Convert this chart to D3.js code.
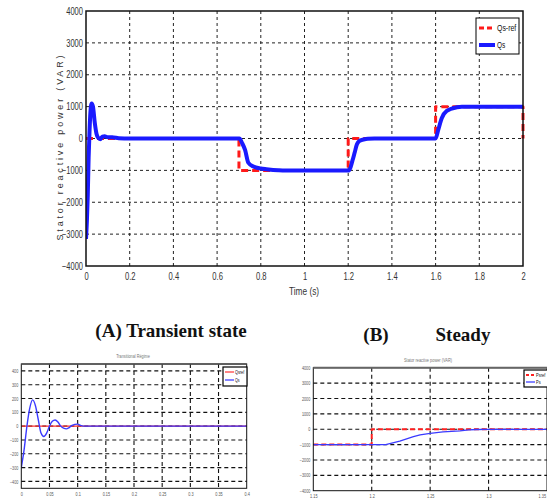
<!DOCTYPE html>
<html>
<head>
<meta charset="utf-8">
<script src="https://cdn.jsdelivr.net/npm/d3@7"></script>
<style>
  html, body { margin: 0; padding: 0; background: #fff; }
  svg { display: block; }
  .narrow { font-family: 'Liberation Sans', 'DejaVu Sans', sans-serif; }
  .caption { font-family: 'Liberation Serif', 'DejaVu Serif', serif; font-weight: bold; }
</style>
</head>
<body>
<svg id="chart" width="547" height="499"></svg>
<script>
// ---- Main figure: stator reactive power over 0..2 s ----
const mainRefTime = [0, 0.7, 0.7, 1.2, 1.2, 1.6, 1.6, 2.0, 2.0];
const mainRefQ    = [0, 0, -1000, -1000, 0, 0, 1000, 1000, 0];

const mainQsTime = [0, 0.004, 0.008, 0.012, 0.016, 0.02, 0.026, 0.032, 0.04, 0.048, 0.056, 0.065,
                    0.075, 0.085, 0.1, 0.12, 0.15, 0.2, 0.702, 0.715, 0.728, 0.743, 0.766, 0.8,
                    0.826, 0.88, 0.9, 1.204, 1.22, 1.23, 1.24, 1.25, 1.27, 1.29, 1.32, 1.6,
                    1.612, 1.628, 1.651, 1.697, 1.72, 2.0];
const mainQs     = [-3150, -2600, -1800, -600, 200, 800, 1100, 1000, 500, 150, 20, -20,
                    60, 70, 40, 40, 10, 0, 0, -150, -360, -760, -880, -940,
                    -962, -995, -1000, -1000, -680, -430, -180, -80, -30, -5, 0, 0,
                    270, 636, 865, 980, 1000, 1000];

const mainXTicks = [0, 0.2, 0.4, 0.6, 0.8, 1, 1.2, 1.4, 1.6, 1.8, 2];
const mainYTicks = [-4000, -3000, -2000, -1000, 0, 1000, 2000, 3000, 4000];

// ---- Panel (A): transient regime, 0..0.4 s ----
const aRefTime = [0, 0.4];
const aRefQ    = [0, 0];
const aQsTime  = [0, 0.005, 0.01, 0.015, 0.02, 0.025, 0.03, 0.035, 0.04, 0.045, 0.05, 0.055,
                  0.06, 0.065, 0.07, 0.075, 0.08, 0.085, 0.09, 0.095, 0.1, 0.105, 0.11, 0.4];
const aQs      = [-300, -170, 0, 130, 190, 150, 50, -50, -75, -50, 0, 35,
                  45, 30, 0, -15, -20, -10, 5, 13, 15, 5, 0, 0];
const aXTicks  = [0, 0.05, 0.1, 0.15, 0.2, 0.25, 0.3, 0.35, 0.4];
const aXLabels = ["0", "0.05", "0.1", "0.15", "0.2", "0.25", "0.3", "0.35", "0.4"];
const aYTicks  = [-400, -300, -200, -100, 0, 100, 200, 300, 400];

// ---- Panel (B): steady regime around the 1.2 s step ----
const bRefTime = [1.15, 1.2, 1.2, 1.35];
const bRefQ    = [-1000, -1000, 0, 0];
const bQsTime  = [1.15, 1.212, 1.224, 1.2357, 1.2414, 1.25, 1.261, 1.2756, 1.283, 1.29, 1.3, 1.35];
const bQs      = [-1000, -1000, -770, -490, -375, -265, -180, -110, -45, -20, -5, -5];
const bXTicks  = [1.15, 1.2, 1.25, 1.3, 1.35];
const bXLabels = ["1.15", "1.2", "1.25", "1.3", "1.35"];
const bYTicks  = [-4000, -3000, -2000, -1000, 0, 1000, 2000, 3000, 4000];

const zip = (a, b) => a.map((v, i) => [v, b[i]]);
const svg = d3.select("#chart");

// condensed look: squeeze each label to an Arial-Narrow-like width
function narrowWidth(str, size) {
  let w = 0;
  for (const c of String(str)) {
    if (c === "." || c === " ") w += 0.22;
    else if (c === "-" || c === "(" || c === ")") w += 0.28;
    else if (/[0-9]/.test(c)) w += 0.42;
    else if (/[A-Z]/.test(c)) w += 0.5;
    else if (/[ilj]/.test(c)) w += 0.2;
    else if (/[tfr]/.test(c)) w += 0.26;
    else w += 0.42;
  }
  return w * size;
}
function squeeze(sel, size) {
  sel.each(function () {
    const t = d3.select(this);
    t.attr("textLength", narrowWidth(t.text(), size)).attr("lengthAdjust", "spacingAndGlyphs");
  });
}

function drawPanel(o) {
  const g = svg.append("g");
  const x = d3.scaleLinear().domain(o.xDomain).range([o.left, o.right]);
  const y = d3.scaleLinear().domain(o.yDomain).range([o.bottom, o.top]);

  // dashed grid
  g.append("g").selectAll("line")
    .data(o.xTicks.filter(t => x(t) > o.left + 1 && x(t) < o.right - 1))
    .join("line")
    .attr("x1", d => x(d)).attr("x2", d => x(d))
    .attr("y1", o.top).attr("y2", o.bottom)
    .attr("stroke", o.gridColor).attr("stroke-width", o.gridWidth)
    .attr("stroke-dasharray", o.gridDash);
  g.append("g").selectAll("line")
    .data(o.yTicks.filter(t => y(t) > o.top + 1 && y(t) < o.bottom - 1))
    .join("line")
    .attr("x1", o.left).attr("x2", o.right)
    .attr("y1", d => y(d)).attr("y2", d => y(d))
    .attr("stroke", o.gridColor).attr("stroke-width", o.gridWidth)
    .attr("stroke-dasharray", o.gridDash);

  // tick labels via d3 axes
  const ax = d3.axisBottom(x).tickValues(o.xTicks).tickSize(0).tickPadding(o.xPad)
    .tickFormat((d, i) => o.xLabels ? o.xLabels[i] : d3.format("~g")(d));
  const axG = g.append("g").attr("transform", `translate(0,${o.bottom})`).call(ax);
  axG.select(".domain").remove();
  axG.attr("font-family", null).attr("font-size", null);
  axG.selectAll("text").attr("class", "narrow").style("font-size", o.tickFont + "px")
    .attr("fill", o.tickColor);
  if (o.lastXEnd) {
    axG.selectAll("text").filter((d, i, n) => i === n.length - 1)
      .attr("text-anchor", "end").attr("x", -1.5);
  }
  squeeze(axG.selectAll("text"), o.tickFont);

  const ay = d3.axisLeft(y).tickValues(o.yTicks).tickSize(0).tickPadding(o.yPad)
    .tickFormat(d3.format("d"));
  const ayG = g.append("g").attr("transform", `translate(${o.left},0)`).call(ay);
  ayG.select(".domain").remove();
  ayG.attr("font-family", null).attr("font-size", null);
  ayG.selectAll("text").attr("class", "narrow").style("font-size", o.tickFont + "px")
    .attr("fill", o.tickColor);
  squeeze(ayG.selectAll("text"), o.tickFont);

  // series
  const clipId = "clip" + Math.round(o.left);
  svg.append("clipPath").attr("id", clipId).append("rect")
    .attr("x", o.left).attr("y", o.top - 3).attr("width", o.right - o.left + 2).attr("height", o.bottom - o.top + 6);
  o.series.forEach(s => {
    const line = d3.line().x(d => x(d[0])).y(d => y(d[1])).curve(s.curve || d3.curveLinear);
    g.append("path")
      .datum(s.data)
      .attr("clip-path", `url(#${clipId})`)
      .attr("d", line)
      .attr("fill", "none")
      .attr("stroke", s.color)
      .attr("stroke-width", s.width)
      .attr("stroke-dasharray", s.dash || null)
      .attr("stroke-linejoin", "round");
  });

  // frame
  g.append("rect")
    .attr("x", o.left).attr("y", o.top)
    .attr("width", o.right - o.left).attr("height", o.bottom - o.top)
    .attr("fill", "none").attr("stroke", o.frameColor).attr("stroke-width", o.frameWidth);
  if (o.topEdge) {
    g.append("line").attr("x1", o.left).attr("x2", o.right).attr("y1", o.top).attr("y2", o.top)
      .attr("stroke", o.topEdge.color).attr("stroke-width", o.topEdge.width);
  }

  // legend
  const L = o.legend;
  const lg = g.append("g");
  lg.append("rect").attr("x", L.x).attr("y", L.y).attr("width", L.w).attr("height", L.h)
    .attr("fill", "#fff").attr("stroke", "#000").attr("stroke-width", L.border);
  L.items.forEach((it, i) => {
    const yy = L.y + L.rowY[i];
    lg.append("line").attr("x1", L.x + L.lx0).attr("x2", L.x + L.lx1)
      .attr("y1", yy).attr("y2", yy)
      .attr("stroke", it.color).attr("stroke-width", it.width)
      .attr("stroke-dasharray", it.dash || null);
    const t = lg.append("text").attr("class", "narrow").attr("x", L.x + L.tx).attr("y", yy)
      .attr("dy", "0.35em").style("font-size", L.font + "px").attr("fill", "#111")
      .text(it.label);
    squeeze(t, L.font);
  });
  return { x, y, g };
}

// main chart
drawPanel({
  left: 86, right: 523, top: 11, bottom: 266,
  xDomain: [0, 2], yDomain: [-4000, 4000],
  xTicks: mainXTicks, yTicks: mainYTicks,
  gridColor: "#222", gridWidth: 1, gridDash: "3,3",
  xPad: 7, yPad: 3, tickFont: 10, tickColor: "#333",
  frameColor: "#111", frameWidth: 1.5,
  series: [
    { data: zip(mainRefTime, mainRefQ), color: "#ff1a1a", width: 3, dash: "7,4" },
    { data: zip(mainQsTime, mainQs), color: "#1a1aff", width: 4, curve: d3.curveMonotoneX }
  ],
  legend: {
    x: 476, y: 18, w: 43, h: 36, border: 1, font: 9, lx0: 3, lx1: 19, tx: 21, rowY: [10, 27],
    items: [
      { label: "Qs-ref", color: "#ff1a1a", width: 3, dash: "5,3" },
      { label: "Qs", color: "#1a1aff", width: 4 }
    ]
  }
});

// axis titles of the main chart
svg.append("text").attr("class", "narrow")
  .attr("transform", "translate(63,148) rotate(-90)")
  .attr("text-anchor", "middle").style("font-size", "9px").attr("fill", "#333")
  .attr("textLength", 185).attr("lengthAdjust", "spacing")
  .text("Stator reactive power (VAR)");
const tl = svg.append("text").attr("class", "narrow")
  .attr("x", 304).attr("y", 295).attr("text-anchor", "middle")
  .style("font-size", "11px").attr("fill", "#333").text("Time (s)");
squeeze(tl, 11);

// captions
svg.append("text").attr("class", "caption").attr("x", 171).attr("y", 337)
  .attr("text-anchor", "middle").style("font-size", "19px").attr("fill", "#111")
  .text("(A) Transient state");
svg.append("text").attr("class", "caption").attr("x", 376).attr("y", 341)
  .attr("text-anchor", "middle").style("font-size", "19px").attr("fill", "#111").text("(B)");
svg.append("text").attr("class", "caption").attr("x", 463).attr("y", 341)
  .attr("text-anchor", "middle").style("font-size", "19px").attr("fill", "#111").text("Steady");

// panel A
drawPanel({
  left: 21.3, right: 246.7, top: 364, bottom: 488.3,
  xDomain: [0, 0.4], yDomain: [-450, 450],
  xTicks: aXTicks, xLabels: aXLabels, yTicks: aYTicks,
  gridColor: "#111", gridWidth: 1.1, gridDash: "4,3",
  xPad: 4, yPad: 3, tickFont: 5, tickColor: "#555",
  frameColor: "#111", frameWidth: 1,
  topEdge: { color: "#555", width: 1.5 },
  series: [
    { data: zip(aRefTime, aRefQ), color: "#ff3030", width: 1.4 },
    { data: zip(aQsTime, aQs), color: "#3a3aff", width: 1.4, curve: d3.curveMonotoneX }
  ],
  legend: {
    x: 223, y: 367, w: 24, h: 19, border: 1.2, font: 5, lx0: 2, lx1: 11, tx: 12, rowY: [5, 13],
    items: [
      { label: "Qsref", color: "#ff5050", width: 1.4 },
      { label: "Qs", color: "#5050ff", width: 1.4 }
    ]
  }
});
const ta = svg.append("text").attr("class", "narrow").attr("x", 133).attr("y", 358)
  .attr("text-anchor", "middle").style("font-size", "5px").attr("fill", "#777")
  .text("Transitional Régime");
squeeze(ta, 5);

// panel B
drawPanel({
  left: 313.3, right: 547, top: 367.7, bottom: 490.7,
  xDomain: [1.15, 1.35], yDomain: [-4000, 4000],
  xTicks: bXTicks, xLabels: bXLabels, yTicks: bYTicks, lastXEnd: true,
  gridColor: "#111", gridWidth: 1.1, gridDash: "4,3",
  xPad: 4, yPad: 3, tickFont: 5, tickColor: "#555",
  frameColor: "#111", frameWidth: 1,
  topEdge: { color: "#666", width: 2 },
  series: [
    { data: zip(bRefTime, bRefQ), color: "#ff2020", width: 2, dash: "5,3" },
    { data: zip(bQsTime, bQs), color: "#3a3aff", width: 1.3 }
  ],
  legend: {
    x: 524, y: 370, w: 30, h: 17, border: 1.2, font: 5, lx0: 2, lx1: 11, tx: 12, rowY: [5, 12],
    items: [
      { label: "Psref", color: "#ff2020", width: 2, dash: "3,2" },
      { label: "Ps", color: "#5050ff", width: 1.4 }
    ]
  }
});
const tb = svg.append("text").attr("class", "narrow").attr("x", 428).attr("y", 362)
  .attr("text-anchor", "middle").style("font-size", "5px").attr("fill", "#777")
  .text("Stator reactive power (VAR)");
squeeze(tb, 5);
</script>
</body>
</html>
